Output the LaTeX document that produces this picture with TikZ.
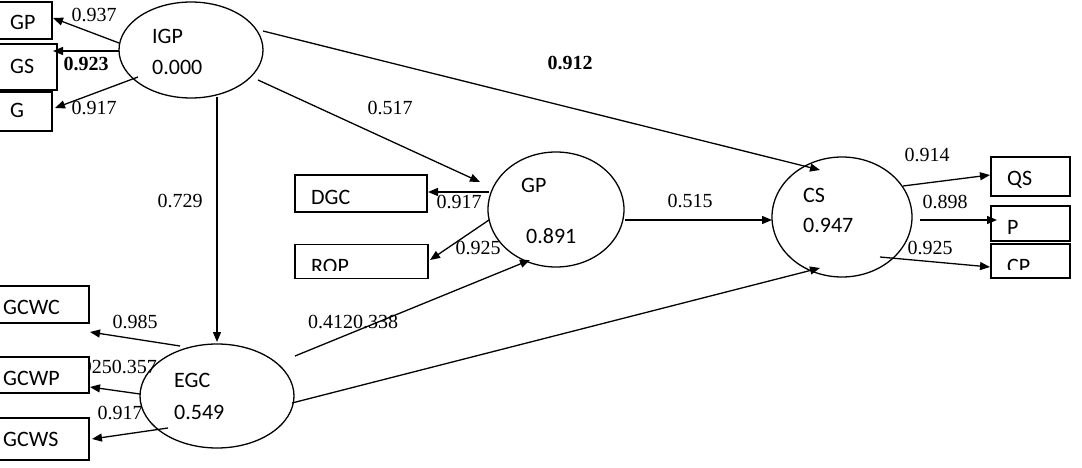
\documentclass[tikz,border=0pt]{standalone}
\usepackage{fontspec}
\setmainfont{Liberation Serif}
\newfontfamily\labfont{Carlito}
\usetikzlibrary{shapes.geometric,arrows.meta}
\begin{document}
\begin{tikzpicture}[x=1pt,y=-1pt,
  lv/.style={draw,ellipse,line width=1.3pt,inner sep=0pt},
  obox/.style={draw,fill=white,line width=1.3pt,inner sep=0pt},
  lab/.style={inner sep=0pt,anchor=west,font=\labfont\fontsize{22}{24}\selectfont},
  num/.style={inner sep=0pt,font=\fontsize{20}{22}\selectfont},
  bnum/.style={inner sep=0pt,font=\bfseries\fontsize{20}{22}\selectfont},
  arr/.style={line width=1.3pt,-{Triangle[length=10pt,width=8pt]}}]
\useasboundingbox (0,0) rectangle (1082,468);

% coefficient labels (under boxes)
\node[num] (n1) at (94,15) {0.937};
\node[bnum] (n2) at (86,64) {0.923};
\node[num] (n3) at (94,108) {0.917};
\node[num] (n4) at (390,108) {0.517};
\node[bnum] (n5) at (570,63) {0.912};
\node[num] (n6) at (180,201) {0.729};
\node[num] (n7) at (459,202) {0.917};
\node[num] (n8) at (478,248) {0.925};
\node[num] (n9) at (690,201) {0.515};
\node[num] (n10) at (353,322) {0.4120.338};
\node[num] (n11) at (927,155) {0.914};
\node[num] (n12) at (945,202) {0.898};
\node[num] (n13) at (930,248) {0.925};
\node[num] (n14) at (135,322) {0.985};
\node[num,anchor=east] (n15) at (157,367) {0.9250.357};
\node[num] (n16) at (120,413) {0.917};

% boxes
\node[obox,minimum width=54pt,minimum height=37pt] (bGP) at (25,20.5) {};
\node[obox,minimum width=59pt,minimum height=46pt] (bGS) at (27.5,67) {};
\node[obox,minimum width=54pt,minimum height=39pt] (bG) at (25,111.5) {};
\node[obox,minimum width=132pt,minimum height=37pt] (bDGC) at (361,193.5) {};
\node[obox,minimum width=133pt,minimum height=34pt] (bROP) at (361.5,261.5) {};
\node[obox,minimum width=79pt,minimum height=39pt] (bQS) at (1030.5,176.5) {};
\node[obox,minimum width=79pt,minimum height=35pt] (bP) at (1030.5,223.5) {};
\node[obox,minimum width=79pt,minimum height=34pt] (bCP) at (1030.5,261) {};
\node[obox,minimum width=90pt,minimum height=37pt] (bGCWC) at (44,304.5) {};
\node[obox,minimum width=90pt,minimum height=36pt] (bGCWP) at (44,375) {};
\node[obox,minimum width=90pt,minimum height=42pt] (bGCWS) at (44,439) {};

% box texts
\node[lab] (tGP) at (10,22) {GP};
\node[lab] (tGS) at (10,66) {GS};
\node[lab] (tG) at (10,110) {G};
\node[lab] (tDGC) at (311,197) {DGC};
\begin{scope}
  \clip (296,246) rectangle (427,270);
  \node[lab] (tROP) at (311,266) {ROP};
\end{scope}
\node[lab] (tQS) at (1007,180) {QS};
\node[lab] (tP) at (1007,227) {P};
\begin{scope}
  \clip (992,246) rectangle (1069,269);
  \node[lab] (tCP) at (1007,266) {CP};
\end{scope}
\node[lab] (tGCWC) at (3,307) {GCWC};
\node[lab] (tGCWP) at (3,378) {GCWP};
\node[lab] (tGCWS) at (3,439) {GCWS};

% latent variables
\node[lv,minimum width=144pt,minimum height=96pt] (IGP) at (191,50) {};
\node[lv,minimum width=136pt,minimum height=115pt] (GPl) at (556,209.5) {};
\node[lv,minimum width=140pt,minimum height=120pt] (CS) at (842,217) {};
\node[lv,minimum width=154pt,minimum height=104pt] (EGC) at (217,396) {};
\node[lab] (tIGP) at (152,36) {IGP};
\node[lab] (vIGP) at (152,67) {0.000};
\node[lab] (tGPl) at (521,185) {GP};
\node[lab] (vGPl) at (526,236) {0.891};
\node[lab] (tCS) at (803,195) {CS};
\node[lab] (vCS) at (803,225) {0.947};
\node[lab] (tEGC) at (174,380) {EGC};
\node[lab] (vEGC) at (174,412) {0.549};

% connector end points
\coordinate (a1s) at (119,43);  \coordinate (a1e) at (53,18);
\coordinate (a2s) at (119,51);  \coordinate (a2e) at (53,51);
\coordinate (a3s) at (138,77);  \coordinate (a3e) at (55,108);
\coordinate (a4s) at (263,31);  \coordinate (a4e) at (820,170);
\coordinate (a5s) at (258,80);  \coordinate (a5e) at (480,182);
\coordinate (a6s) at (217,97);  \coordinate (a6e) at (217,342);
\coordinate (a7s) at (489,192); \coordinate (a7e) at (428,192);
\coordinate (a8s) at (489,220); \coordinate (a8e) at (430,260);
\coordinate (a9s) at (295,356); \coordinate (a9e) at (530,260);
\coordinate (a10s) at (625,220); \coordinate (a10e) at (772,220);
\coordinate (a11s) at (292,403); \coordinate (a11e) at (820,268);
\coordinate (a12s) at (903,186); \coordinate (a12e) at (990,175);
\coordinate (a13s) at (920,220); \coordinate (a13e) at (997,220);
\coordinate (a14s) at (880,257); \coordinate (a14e) at (990,267);
\coordinate (a15s) at (180,346); \coordinate (a15e) at (90,332);
\coordinate (a16s) at (140,394); \coordinate (a16e) at (90,387);
\coordinate (a17s) at (168,428); \coordinate (a17e) at (92,439);

\draw[arr] (a1s) -- (a1e);
\draw[arr] (a2s) -- (a2e);
\draw[arr] (a3s) -- (a3e);
\draw[arr] (a4s) -- (a4e);
\draw[arr] (a5s) -- (a5e);
\draw[arr] (a6s) -- (a6e);
\draw[arr] (a7s) -- (a7e);
\draw[arr] (a8s) -- (a8e);
\draw[arr] (a9s) -- (a9e);
\draw[arr] (a10s) -- (a10e);
\draw[arr] (a11s) -- (a11e);
\draw[arr] (a12s) -- (a12e);
\draw[arr] (a13s) -- (a13e);
\draw[arr] (a14s) -- (a14e);
\draw[arr] (a15s) -- (a15e);
\draw[arr] (a16s) -- (a16e);
\draw[arr] (a17s) -- (a17e);
\end{tikzpicture}
\end{document}
